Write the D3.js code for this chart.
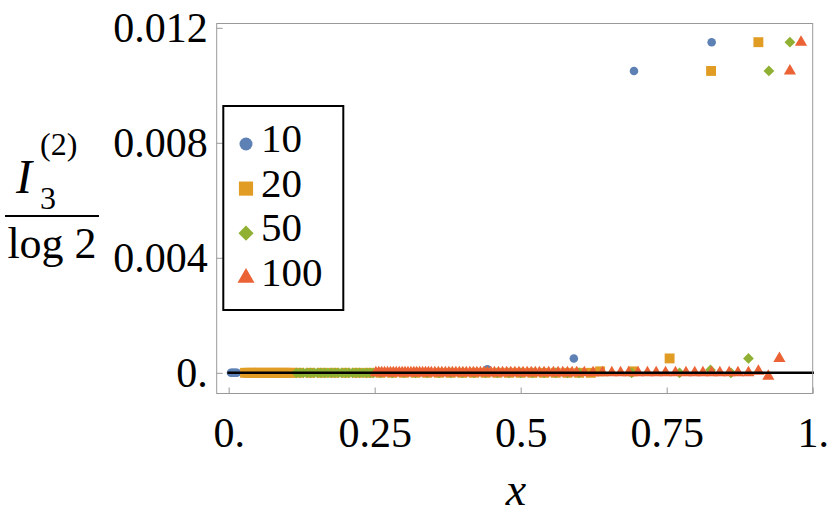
<!DOCTYPE html>
<html>
<head>
<meta charset="utf-8">
<script src="https://cdn.jsdelivr.net/npm/d3@7"></script>
<style>
  body { margin: 0; background: #fff; }
  svg { display: block; }
</style>
</head>
<body>
<div class="chartContainer"></div>
<script>
// series = system size N
const seriesNames = ['10', '20', '50', '100']

// x of the points that sit on I3 = 0
const zeros10 = [0.004, 0.0065, 0.009, 0.0115, 0.014]
const zeros20 = [0.028, 0.033, 0.038, 0.043, 0.048, 0.053, 0.058, 0.063, 0.068, 0.073, 0.078, 0.083, 0.088, 0.093, 0.098, 0.103, 0.108,
  0.12, 0.14, 0.16, 0.18, 0.20, 0.22, 0.24, 0.26, 0.28, 0.30, 0.32, 0.34, 0.36, 0.38, 0.40, 0.42, 0.44, 0.46, 0.48, 0.50, 0.52, 0.54, 0.56, 0.58, 0.60, 0.62]
const zeros50 = [0.116, 0.122, 0.128, 0.134, 0.140, 0.146, 0.152, 0.158, 0.164, 0.170, 0.176, 0.182, 0.188, 0.194, 0.200, 0.206, 0.212, 0.218, 0.224, 0.230, 0.236, 0.242, 0.248,
  0.26, 0.28, 0.30, 0.32, 0.34, 0.36, 0.38, 0.40, 0.42, 0.44, 0.46, 0.48, 0.50, 0.52, 0.54, 0.56, 0.58, 0.60, 0.690, 0.772, 0.860]
const zeros100 = [0.252, 0.257, 0.262, 0.267, 0.272, 0.277, 0.282, 0.287, 0.292, 0.297, 0.302, 0.307, 0.312, 0.317, 0.322, 0.327, 0.332, 0.337, 0.342, 0.347,
  0.353, 0.359, 0.365, 0.371, 0.377, 0.383, 0.389, 0.395, 0.401, 0.407, 0.413, 0.419, 0.425, 0.431, 0.437, 0.443, 0.449, 0.455,
  0.462, 0.469, 0.476, 0.483, 0.490, 0.497, 0.504, 0.511, 0.518, 0.525, 0.532, 0.540, 0.548, 0.556, 0.564, 0.572, 0.580, 0.588, 0.596,
  0.609, 0.624, 0.640, 0.656, 0.671, 0.685, 0.701, 0.717, 0.732, 0.748, 0.765, 0.783, 0.798, 0.812, 0.827, 0.841, 0.857, 0.872, 0.890]

// points off the zero line
const peaks10x = [0.443, 0.591, 0.694, 0.827]
const peaks10y = [0.00012, 0.0005, 0.0105, 0.0115]
const peaks20x = [0.636, 0.692, 0.755, 0.826, 0.907]
const peaks20y = [0.00005, 0.00005, 0.0005, 0.0105, 0.0115]
const peaks50x = [0.825, 0.890, 0.925, 0.961]
const peaks50y = [0.0001, 0.0005, 0.0105, 0.0115]
const peaks100x = [0.907, 0.924, 0.943, 0.961, 0.980]
const peaks100y = [0.00005, -0.00012, 0.0005, 0.0105, 0.0115]

const xTicks = [0, 0.25, 0.5, 0.75, 1]
const xTickLabels = ['0.', '0.25', '0.5', '0.75', '1.']
const yTicks = [0, 0.004, 0.008, 0.012]
const yTickLabels = ['0.', '0.004', '0.008', '0.012']

const width = 830, height = 530
const mLeft = 216.7, mRight = 17.3, mTop = 23.5, mBottom = 136.5
const innerWidth = width - mLeft - mRight
const innerHeight = height - mTop - mBottom
const font = 'Liberation Serif'

const colors = ['#5E81B5', '#E19C24', '#8FB032', '#EB6235']
const shapes = [d3.symbolCircle, d3.symbolSquare, d3.symbolSquare, d3.symbolTriangle]
const plotSizes = [58, 98, 58, 64]
const legendSizes = [133, 200, 115, 125]
const rotations = [0, 0, 45, 0]

const zeros = [zeros10, zeros20, zeros50, zeros100]
const peaksX = [peaks10x, peaks20x, peaks50x, peaks100x]
const peaksY = [peaks10y, peaks20y, peaks50y, peaks100y]

const series = seriesNames.map((name, i) => ({
  name,
  points: zeros[i].map(x => ({ x, y: 0 }))
    .concat(peaksX[i].map((x, j) => ({ x, y: peaksY[i][j] })))
}))

const x = d3.scaleLinear().domain([-0.0205, 1]).range([0, innerWidth])
const y = d3.scaleLinear().domain([-0.00072, 0.01215]).range([innerHeight, 0])

const svg = d3.select('.chartContainer')
  .append('svg')
  .attr('width', width)
  .attr('height', height)
  .attr('font-family', font)

const g = svg.append('g').attr('transform', `translate(${mLeft},${mTop})`)

// points, drawn in series order so 100 ends on top
series.forEach((s, i) => {
  const sym = d3.symbol().type(shapes[i]).size(plotSizes[i])
  g.append('g')
    .selectAll('path')
    .data(s.points)
    .join('path')
      .attr('d', sym)
      .attr('transform', d => `translate(${x(d.x)},${y(d.y)}) rotate(${rotations[i]})`)
      .attr('fill', colors[i])
})

// zero line
g.append('line')
  .attr('x1', x(0)).attr('x2', x(1))
  .attr('y1', y(0)).attr('y2', y(0))
  .attr('stroke', '#000')
  .attr('stroke-width', 2.6)
  .attr('stroke-linecap', 'square')

// frame
g.append('rect')
  .attr('x', 0).attr('y', 0)
  .attr('width', innerWidth).attr('height', innerHeight)
  .attr('fill', 'none')
  .attr('stroke', '#999')
  .attr('stroke-width', 1)

// axes
const xAxis = g.append('g')
  .attr('transform', `translate(0,${innerHeight})`)
  .call(d3.axisBottom(x).tickValues(xTicks).tickFormat((d, i) => xTickLabels[i]).tickSize(-6).tickPadding(24))
const yAxis = g.append('g')
  .call(d3.axisLeft(y).tickValues(yTicks).tickFormat((d, i) => yTickLabels[i]).tickSize(-6).tickPadding(9))

;[xAxis, yAxis].forEach(a => {
  a.select('.domain').remove()
  a.attr('font-family', font).attr('font-size', 42)
  a.selectAll('line').attr('stroke', '#999')
  a.selectAll('text').attr('fill', '#000')
})

// x label
svg.append('text')
  .attr('x', 516).attr('y', 505)
  .attr('text-anchor', 'middle')
  .attr('font-style', 'italic')
  .attr('font-size', 46)
  .text('x')

// y label: I3^(2) / log 2
const yl = svg.append('g')
yl.append('text').attr('x', 16).attr('y', 193).attr('font-style', 'italic').attr('font-size', 48).text('I')
yl.append('text').attr('x', 40).attr('y', 155).attr('font-size', 32).text('(2)')
yl.append('text').attr('x', 40).attr('y', 209).attr('font-size', 32).text('3')
yl.append('line')
  .attr('x1', 5).attr('x2', 99).attr('y1', 216).attr('y2', 216)
  .attr('stroke', '#000').attr('stroke-width', 2)
yl.append('text').attr('x', 52).attr('y', 258).attr('text-anchor', 'middle').attr('font-size', 44).text('log 2')

// legend
const legend = svg.append('g')
legend.append('rect')
  .attr('x', 223.3).attr('y', 106)
  .attr('width', 120).attr('height', 204)
  .attr('fill', '#fff')
  .attr('stroke', '#000')
  .attr('stroke-width', 2)

const rows = legend.selectAll('g.row')
  .data(seriesNames)
  .join('g')
    .attr('class', 'row')
    .attr('transform', (d, i) => `translate(0,${152 + i * 44.6})`)

rows.append('path')
  .attr('d', (d, i) => d3.symbol().type(shapes[i]).size(legendSizes[i])())
  .attr('transform', (d, i) => `translate(246,-8) rotate(${rotations[i]})`)
  .attr('fill', (d, i) => colors[i])

rows.append('text')
  .attr('x', 261)
  .attr('font-size', 41)
  .text(d => d)
</script>
</body>
</html>
